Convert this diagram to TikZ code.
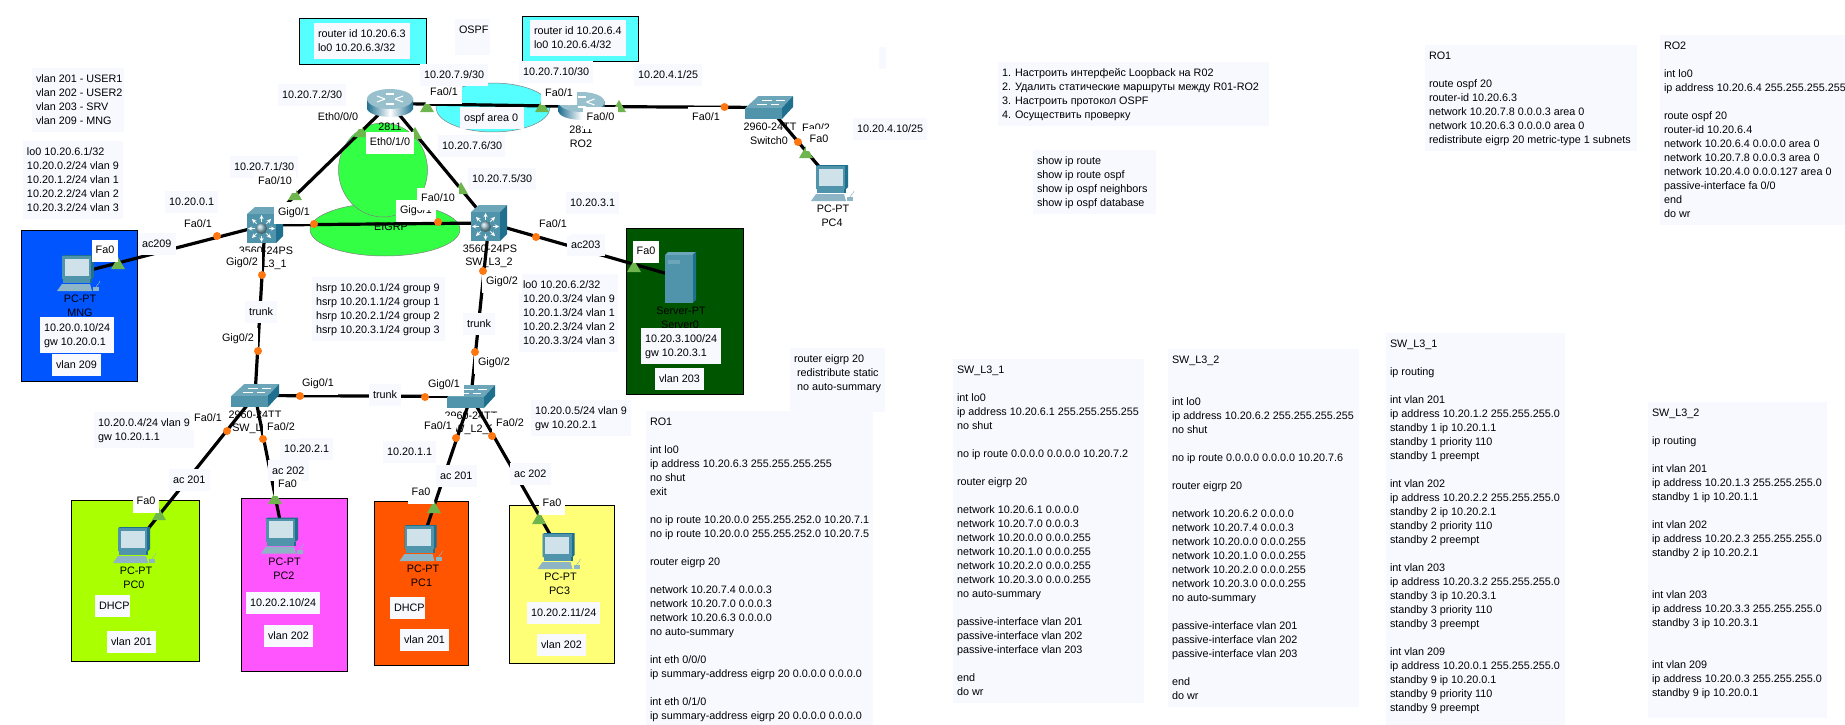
\documentclass[tikz,border=0pt]{standalone}
\usepackage{fontspec}
\setmainfont{Liberation Sans}
\usetikzlibrary{shapes.geometric}
\definecolor{notefill}{HTML}{F7F9FF}
\definecolor{blueb}{HTML}{0055FF}
\definecolor{dgreenb}{HTML}{005500}
\definecolor{limeb}{HTML}{AAFF00}
\definecolor{magb}{HTML}{FF55FF}
\definecolor{orb}{HTML}{FF5500}
\definecolor{yelb}{HTML}{FFFF77}
\definecolor{cyanb}{HTML}{55FFFF}
\definecolor{greenb}{HTML}{33FF44}
\definecolor{tealA}{HTML}{4F94AB}
\definecolor{tealB}{HTML}{1F6F8F}
\definecolor{tealC}{HTML}{6CA6B8}
\definecolor{screenc}{HTML}{D0E2E9}
\definecolor{keyc}{HTML}{8DB5C6}
\definecolor{triC}{HTML}{6DB54C}
\definecolor{dotC}{HTML}{FF7711}
\tikzset{
  x=1pt,y=-1pt,
  every node/.style={font=\fontsize{10.8}{14}\selectfont,inner sep=0pt,outer sep=0pt},
  notebg/.style={fill=notefill,anchor=north west},
  notetxt/.style={anchor=north west,align=left},
  colbox/.style={draw=black,line width=0.9pt},
  link/.style={draw=black,line width=3.2pt},
  blob/.style={draw=gray,line width=0.5pt},
  iflbl/.style={fill=white,inner xsep=4pt,inner ysep=5.5pt},
  devtxt/.style={},
  devnode/.style={anchor=center},
  odot/.style={circle,fill=dotC,minimum size=8pt},
  gtri/.style={regular polygon,regular polygon sides=3,fill=triC,minimum size=16pt,yshift=-2pt},
  pcicon/.pic={
    \fill[tealB] (5,1) -- (7,0) -- (37,0) -- (37,22) -- (35,24) -- (5,24) -- cycle;
    \fill[tealA] (5,1) rectangle (34,24);
    \fill[screenc] (7.5,3.5) rectangle (31.5,20.5);
    \fill[tealA] (6,24) rectangle (33,28);
    \fill[tealB] (33,24) rectangle (35,28);
    \fill[keyc] (5,29) -- (33,29) -- (35,36) -- (0,36) -- cycle;
    \fill[keyc] (36,32) rectangle (42,36);
    \draw[keyc,line width=0.5pt] (39,32) .. controls (41,28) and (43,29) .. (43,26);
  },
  routericon/.pic={
    \shade[left color=tealB,right color=tealB,middle color=white]
      (0,9) -- (0,20) .. controls (4,30.5) and (42,30.5) .. (46,20) -- (46,9) -- cycle;
    \fill[tealC!70!white] (23,10) ellipse [x radius=23,y radius=10];
    \draw[white,line width=1.1pt] (10,7) -- (18,10) (36,7) -- (28,10) (10,13) -- (18,10) (36,13) -- (28,10);
    \draw[white,line width=1.1pt] (19,5) -- (27,5) (19,15) -- (27,15);
  },
  lthreeicon/.pic={
    \fill[tealC] (0,7) -- (8,0) -- (36,0) -- (29,7) -- cycle;
    \fill[tealB] (29,7) -- (36,0) -- (36,29) -- (29,36) -- cycle;
    \fill[tealA] (0,7) rectangle (29,36);
    \foreach \a in {0,45,...,315}
      \draw[white,line width=0.9pt,-stealth] (14.5,21.5) ++(\a:7) -- ++(\a:6.5);
    \shade[ball color=tealA!60!white] (14.5,21.5) circle (5.5);
  },
  ltwoicon/.pic={
    \fill[tealC] (0,12.3) -- (13.3,0) -- (48,0) -- (36.7,12.3) -- cycle;
    \fill[tealB] (36.7,12.3) -- (48,0) -- (48,11) -- (36.7,23.3) -- cycle;
    \fill[tealA] (0,12.3) rectangle (36.7,23.3);
    \draw[white,line width=0.7pt] (12,8) -- (22,8) (26,8) -- (34,8) (17,4) -- (27,4) (31,4) -- (40,4);
  },
  servericon/.pic={
    \fill[tealC] (0,3) -- (3,0) -- (31,0) -- (27.5,3) -- cycle;
    \fill[tealB] (27.5,3) -- (31,0) -- (31,48) -- (27.5,51) -- cycle;
    \fill[tealA] (0,3) rectangle (27.5,51);
    \fill[tealC] (3,8) rectangle (15,12);
  }
}
% name, x0, y0, x1, y1, centre of first line, lines
\newcommand\cnote[7]{%
  \node[notebg,minimum width=#4pt-#2pt,minimum height=#5pt-#3pt] (#1) at (#2,#3) {};
  \pgfmathsetmacro\tx{#2+4}\pgfmathsetmacro\ty{#6-6.6}
  \node[notetxt] (#1t) at (\tx,\ty) {\rule{0pt}{10.5pt}#7};
}
\newcommand\snote[6]{%
  \pgfmathsetmacro\fc{(#3+#5)/2}
  \cnote{#1}{#2}{#3}{#4}{#5}{\fc}{#6}
}
\newcommand\iflab[4]{\node[iflbl] (#1) at (#2,#3) {\rule[-3pt]{0pt}{11pt}#4};}
\begin{document}
\begin{tikzpicture}
\useasboundingbox (0,0) rectangle (1845,725);
% coloured areas
\fill[white] (0,0) rectangle (1845,725);
\draw[colbox,fill=cyanb] (299,18) rectangle (426,64);
\draw[colbox,fill=cyanb] (522,16) rectangle (638,61);
\draw[colbox,fill=blueb] (21,230) rectangle (137,381);
\draw[colbox,fill=dgreenb] (626,228) rectangle (743,394);
\draw[colbox,fill=limeb] (71.5,500) rectangle (199.5,661);
\draw[colbox,fill=magb] (241,498) rectangle (347,671);
\draw[colbox,fill=orb] (374.5,501) rectangle (468,665);
\draw[colbox,fill=yelb] (509.5,505) rectangle (614,663);
\draw[blob,fill=cyanb] (493,107.5) ellipse [x radius=57,y radius=24.5];
\draw[blob,fill=greenb] (385,229.5) ellipse [x radius=75,y radius=26.5];
\draw[blob,fill=greenb] (383,170) ellipse [x radius=44.5,y radius=47];
% device anchors
\node[devnode,minimum width=46pt,minimum height=29pt] (r1) at (390,103.5) {};
\node[devnode,minimum width=46pt,minimum height=29pt] (r2) at (581.5,106.5) {};
\node[devnode,minimum width=36pt,minimum height=36pt] (sw1) at (265,225) {};
\node[devnode,minimum width=36pt,minimum height=36pt] (sw2) at (489,223) {};
\node[devnode,minimum width=48pt,minimum height=23pt] (l1) at (255,395.5) {};
\node[devnode,minimum width=48pt,minimum height=23pt] (l2) at (471,396.5) {};
\node[devnode,minimum width=48pt,minimum height=23pt] (sw0) at (769,107.5) {};
\node[devnode,minimum width=44pt,minimum height=36pt] (mng) at (79,273) {};
\node[devnode,minimum width=44pt,minimum height=36pt] (pc0) at (135,545) {};
\node[devnode,minimum width=44pt,minimum height=36pt] (pc2) at (283,535.5) {};
\node[devnode,minimum width=44pt,minimum height=36pt] (pc1) at (421.5,543) {};
\node[devnode,minimum width=44pt,minimum height=36pt] (pc3) at (559.5,551) {};
\node[devnode,minimum width=44pt,minimum height=36pt] (pc4) at (833,183) {};
\node[devnode,minimum width=31pt,minimum height=51pt] (srv) at (680.5,277.5) {};
% device captions
\node (cr1) at (390,127) {2811};
\node (cr2a) at (581,130) {2811};
\node (cr2b) at (581,144) {RO2};
\node (cs1a) at (266,251) {3560-24PS};
\node (cs1b) at (263,265) {SW\_L3\_1};
\node (cs2a) at (490,249) {3560-24PS};
\node (cs2b) at (489,263) {SW\_L3\_2};
\node (cl1a) at (255,415) {2960-24TT};
\node (cl1b) at (256,429) {SW\_L2\_1};
\node (cl2a) at (471,416) {2960-24TT};
\node (cl2b) at (471,430) {SW\_L2\_2};
\node (cs0a) at (770,127) {2960-24TT};
\node (cs0b) at (769,141) {Switch0};
\node (cm1) at (80,299) {PC-PT};
\node (cm2) at (80,313) {MNG};
\node (cp0a) at (136,571) {PC-PT};
\node (cp0b) at (134,585) {PC0};
\node (cp2a) at (284.5,562) {PC-PT};
\node (cp2b) at (284,576) {PC2};
\node (cp1a) at (423,569) {PC-PT};
\node (cp1b) at (421.5,583) {PC1};
\node (cp3a) at (560.5,577) {PC-PT};
\node (cp3b) at (559.5,591) {PC3};
\node (cp4a) at (833,209) {PC-PT};
\node (cp4b) at (832,223) {PC4};
\node (cs9a) at (681,311) {Server-PT};
\node (cs9b) at (680,325) {Server0};
\node (ceig) at (391,227) {EIGRP};
\iflab{lg2}{416}{211}{Gig0/1}
% links
\draw[link] (r1.center) -- (r2.center);
\draw[link] (r1.center) -- (sw1.center);
\draw[link] (r1.center) -- (sw2.center);
\draw[link] (r2.center) -- (sw0.center);
\draw[link] (sw0.center) -- (pc4.center);
\draw[link] (sw1.center) -- (sw2.center);
\draw[link] (mng.center) -- (sw1.center);
\draw[link] (sw2.center) -- (srv.center);
\draw[link] (sw1.center) -- (l1.center);
\draw[link] (sw2.center) -- (l2.center);
\draw[link] (l1.center) -- (l2.center);
\draw[link] (l1.center) -- (pc0.center);
\draw[link] (l1.center) -- (pc2.center);
\draw[link] (l2.center) -- (pc1.center);
\draw[link] (l2.center) -- (pc3.center);
% icons
\pic at (r1.north west) {routericon};
\pic at (r2.north west) {routericon};
\pic at (sw1.north west) {lthreeicon};
\pic at (sw2.north west) {lthreeicon};
\pic at (l1.north west) {ltwoicon};
\pic at (l2.north west) {ltwoicon};
\pic at (sw0.north west) {ltwoicon};
\pic at (mng.north west) {pcicon};
\pic at (pc0.north west) {pcicon};
\pic at (pc2.north west) {pcicon};
\pic at (pc1.north west) {pcicon};
\pic at (pc3.north west) {pcicon};
\pic at (pc4.north west) {pcicon};
\pic at (srv.north west) {servericon};
% link-state triangles
\foreach \x/\y [count=\i] in {361/131,295/194,415/133,461/188,427/106,542/106,619/106,806/152,118/263,634/266,159/514,275/498,434/507,539/518}
  \node[gtri] (tr\i) at (\x,\y) {};
\iflab{la1}{444}{93}{Fa0/1}
\iflab{la2}{559}{94}{Fa0/1}
% notes
\cnote{n1}{32}{68}{124}{132}{79}{vlan 201 - USER1\\vlan 202 - USER2\\vlan 203 - SRV\\vlan 209 - MNG}
\cnote{n2}{23}{141}{123}{219}{152}{lo0 10.20.6.1/32\\10.20.0.2/24 vlan 9\\10.20.1.2/24 vlan 1\\10.20.2.2/24 vlan 2\\10.20.3.2/24 vlan 3}
\cnote{n3}{314}{23}{410}{59}{34}{router id 10.20.6.3\\lo0 10.20.6.3/32}
\cnote{n4}{530}{20}{626}{56}{31}{router id 10.20.6.4\\lo0 10.20.6.4/32}
\cnote{n5}{455}{19}{490}{55}{30}{OSPF}
\node[notebg,minimum width=7pt,minimum height=22pt] (n6) at (879,47) {};
\snote{n7}{278}{84}{346}{106}{10.20.7.2/30}
\snote{n8}{420}{64}{488}{86}{10.20.7.9/30}
\snote{n9}{519}{61}{593}{83}{10.20.7.10/30}
\snote{n10}{634}{64}{702}{86}{10.20.4.1/25}
\snote{n11}{230}{156}{298}{178}{10.20.7.1/30}
\snote{n12}{165}{191}{218}{213}{10.20.0.1}
\snote{n13}{438}{135}{505}{157}{10.20.7.6/30}
\snote{n14}{468}{168}{536}{190}{10.20.7.5/30}
\snote{n15}{566}{192}{619}{214}{10.20.3.1}
\snote{n16}{853}{118}{927}{140}{10.20.4.10/25}
\snote{n17}{460}{107}{524}{129}{ospf area 0}
\snote{n18}{138}{233}{176}{255}{ac209}
\snote{n19}{567}{234}{605}{256}{ac203}
\snote{n20}{245}{301}{276.5}{323}{trunk}
\snote{n21}{463}{313}{495}{335}{trunk}
\snote{n22}{369}{384}{401}{406}{trunk}
\cnote{n23}{312}{277}{445}{341}{288}{hsrp 10.20.0.1/24 group 9\\hsrp 10.20.1.1/24 group 1\\hsrp 10.20.2.1/24 group 2\\hsrp 10.20.3.1/24 group 3}
\cnote{n24}{519}{274}{618}{352}{285}{lo0 10.20.6.2/32\\10.20.0.3/24 vlan 9\\10.20.1.3/24 vlan 1\\10.20.2.3/24 vlan 2\\10.20.3.3/24 vlan 3}
\cnote{n25}{94}{412}{194}{448}{423}{10.20.0.4/24 vlan 9\\gw 10.20.1.1}
\cnote{n26}{531}{400}{631}{436}{411}{10.20.0.5/24 vlan 9\\gw 10.20.2.1}
\snote{n27}{169}{469}{210}{491}{ac 201}
\snote{n28}{268}{460}{309}{481}{ac 202}
\snote{n29}{280}{438}{333}{460}{10.20.2.1}
\snote{n30}{436}{465}{477}{487}{ac 201}
\snote{n31}{510}{463}{551}{485}{ac 202}
\snote{n32}{383}{441}{436}{463}{10.20.1.1}
\cnote{n33}{40}{317}{114}{353}{328}{10.20.0.10/24\\gw 10.20.0.1}
\snote{n34}{52}{354}{101}{376}{vlan 209}
\cnote{n35}{641}{328}{721}{364}{339}{10.20.3.100/24\\gw 10.20.3.1}
\snote{n36}{655}{368}{704}{390}{vlan 203}
\snote{n37}{95}{595}{130}{617}{DHCP}
\snote{n38}{107}{631}{156}{653}{vlan 201}
\snote{n39}{246}{592}{320}{614}{10.20.2.10/24}
\snote{n40}{264}{625}{313}{647}{vlan 202}
\snote{n41}{390}{597}{425}{619}{DHCP}
\snote{n42}{400}{629}{449}{651}{vlan 201}
\snote{n43}{527}{602}{600}{624}{10.20.2.11/24}
\snote{n44}{537}{634}{586}{656}{vlan 202}
\cnote{n45}{790}{348}{885}{412}{359}{router eigrp 20\\\hspace*{3pt}redistribute static\\\hspace*{3pt}no auto-summary}
\cnote{n46}{646}{411}{873}{725}{422}{RO1\\~\\int lo0\\ip address 10.20.6.3 255.255.255.255\\no shut\\exit\\~\\no ip route 10.20.0.0 255.255.252.0 10.20.7.1\\no ip route 10.20.0.0 255.255.252.0 10.20.7.5\\~\\router eigrp 20\\~\\network 10.20.7.4 0.0.0.3\\network 10.20.7.0 0.0.0.3\\network 10.20.6.3 0.0.0.0\\no auto-summary\\~\\int eth 0/0/0\\ip summary-address eigrp 20 0.0.0.0 0.0.0.0\\~\\int eth 0/1/0\\ip summary-address eigrp 20 0.0.0.0 0.0.0.0}
\cnote{n47}{953}{359}{1144}{703}{370}{SW\_L3\_1\\~\\int lo0\\ip address 10.20.6.1 255.255.255.255\\no shut\\~\\no ip route 0.0.0.0 0.0.0.0 10.20.7.2\\~\\router eigrp 20\\~\\network 10.20.6.1 0.0.0.0\\network 10.20.7.0 0.0.0.3\\network 10.20.0.0 0.0.0.255\\network 10.20.1.0 0.0.0.255\\network 10.20.2.0 0.0.0.255\\network 10.20.3.0 0.0.0.255\\no auto-summary\\~\\passive-interface vlan 201\\passive-interface vlan 202\\passive-interface vlan 203\\~\\end\\do wr}
\cnote{n48}{1168}{349}{1359}{707}{360}{SW\_L3\_2\\~\\~\\int lo0\\ip address 10.20.6.2 255.255.255.255\\no shut\\~\\no ip route 0.0.0.0 0.0.0.0 10.20.7.6\\~\\router eigrp 20\\~\\network 10.20.6.2 0.0.0.0\\network 10.20.7.4 0.0.0.3\\network 10.20.0.0 0.0.0.255\\network 10.20.1.0 0.0.0.255\\network 10.20.2.0 0.0.0.255\\network 10.20.3.0 0.0.0.255\\no auto-summary\\~\\passive-interface vlan 201\\passive-interface vlan 202\\passive-interface vlan 203\\~\\end\\do wr}
\cnote{n49}{1386}{333}{1565}{725}{344}{SW\_L3\_1\\~\\ip routing\\~\\int vlan 201\\ip address 10.20.1.2 255.255.255.0\\standby 1 ip 10.20.1.1\\standby 1 priority 110\\standby 1 preempt\\~\\int vlan 202\\ip address 10.20.2.2 255.255.255.0\\standby 2 ip 10.20.2.1\\standby 2 priority 110\\standby 2 preempt\\~\\int vlan 203\\ip address 10.20.3.2 255.255.255.0\\standby 3 ip 10.20.3.1\\standby 3 priority 110\\standby 3 preempt\\~\\int vlan 209\\ip address 10.20.0.1 255.255.255.0\\standby 9 ip 10.20.0.1\\standby 9 priority 110\\standby 9 preempt}
\cnote{n50}{1648}{402}{1827}{718}{413}{SW\_L3\_2\\~\\ip routing\\~\\int vlan 201\\ip address 10.20.1.3 255.255.255.0\\standby 1 ip 10.20.1.1\\~\\int vlan 202\\ip address 10.20.2.3 255.255.255.0\\standby 2 ip 10.20.2.1\\~\\~\\int vlan 203\\ip address 10.20.3.3 255.255.255.0\\standby 3 ip 10.20.3.1\\~\\~\\int vlan 209\\ip address 10.20.0.3 255.255.255.0\\standby 9 ip 10.20.0.1}
\cnote{n51}{1425}{45}{1637}{151}{56}{RO1\\~\\route ospf 20\\router-id 10.20.6.3\\network 10.20.7.8 0.0.0.3 area 0\\network 10.20.6.3 0.0.0.0 area 0\\redistribute eigrp 20 metric-type 1 subnets}
\cnote{n52}{1660}{35}{1845}{225}{46}{RO2\\~\\int lo0\\ip address 10.20.6.4 255.255.255.255\\~\\route ospf 20\\router-id 10.20.6.4\\network 10.20.6.4 0.0.0.0 area 0\\network 10.20.7.8 0.0.0.3 area 0\\network 10.20.4.0 0.0.0.127 area 0\\passive-interface fa 0/0\\end\\do wr}
\cnote{n53}{998}{62}{1269}{126}{73}{1. Настроить интерфейс Loopback на R02\\2. Удалить статические маршруты между R01-RO2\\3. Настроить протокол OSPF\\4. Осуществить проверку}
\cnote{n54}{1033}{150}{1156}{214}{161}{show ip route\\show ip route ospf\\show ip ospf neighbors\\show ip ospf database}
% interface labels
\iflab{l1a}{338}{118}{Eth0/0/0}
\iflab{l2a}{390}{143}{Eth0/1/0}
\iflab{l3a}{275}{182}{Fa0/10}
\iflab{l4a}{294}{213}{Gig0/1}
\iflab{l5a}{438}{199}{Fa0/10}
\iflab{l6a}{198}{225}{Fa0/1}
\iflab{l7a}{242}{263}{Gig0/2}
\iflab{l8a}{238}{339}{Gig0/2}
\iflab{l9a}{502}{282}{Gig0/2}
\iflab{l10a}{494}{363}{Gig0/2}
\iflab{l11a}{318}{384}{Gig0/1}
\iflab{l12a}{444}{385}{Gig0/1}
\iflab{l13a}{208}{419}{Fa0/1}
\iflab{l14a}{281}{428}{Fa0/2}
\iflab{l15a}{438}{427}{Fa0/1}
\iflab{l16a}{510}{424}{Fa0/2}
\iflab{l17a}{105}{251}{Fa0}
\iflab{l18a}{646}{252}{Fa0}
\iflab{l19a}{146}{502}{Fa0}
\iflab{l20a}{287.5}{485}{Fa0}
\iflab{l21a}{421}{493}{Fa0}
\iflab{l22a}{552}{504}{Fa0}
\iflab{l23a}{600.5}{117.5}{Fa0/0}
\iflab{l24a}{706}{118}{Fa0/1}
\iflab{l25a}{816}{129}{Fa0/2}
\iflab{l26a}{819}{140}{Fa0}
\iflab{l27a}{553}{225}{Fa0/1}
% port dots
\foreach \x/\y [count=\i] in {217/236,262/275,314/224,438/222,536/237,483/271,258/351,300/396,425/397,475/352,227/431,263/439,456/438,492/436,724.5/107,798/142}
  \node[odot] (od\i) at (\x,\y) {};
\end{tikzpicture}
\end{document}
